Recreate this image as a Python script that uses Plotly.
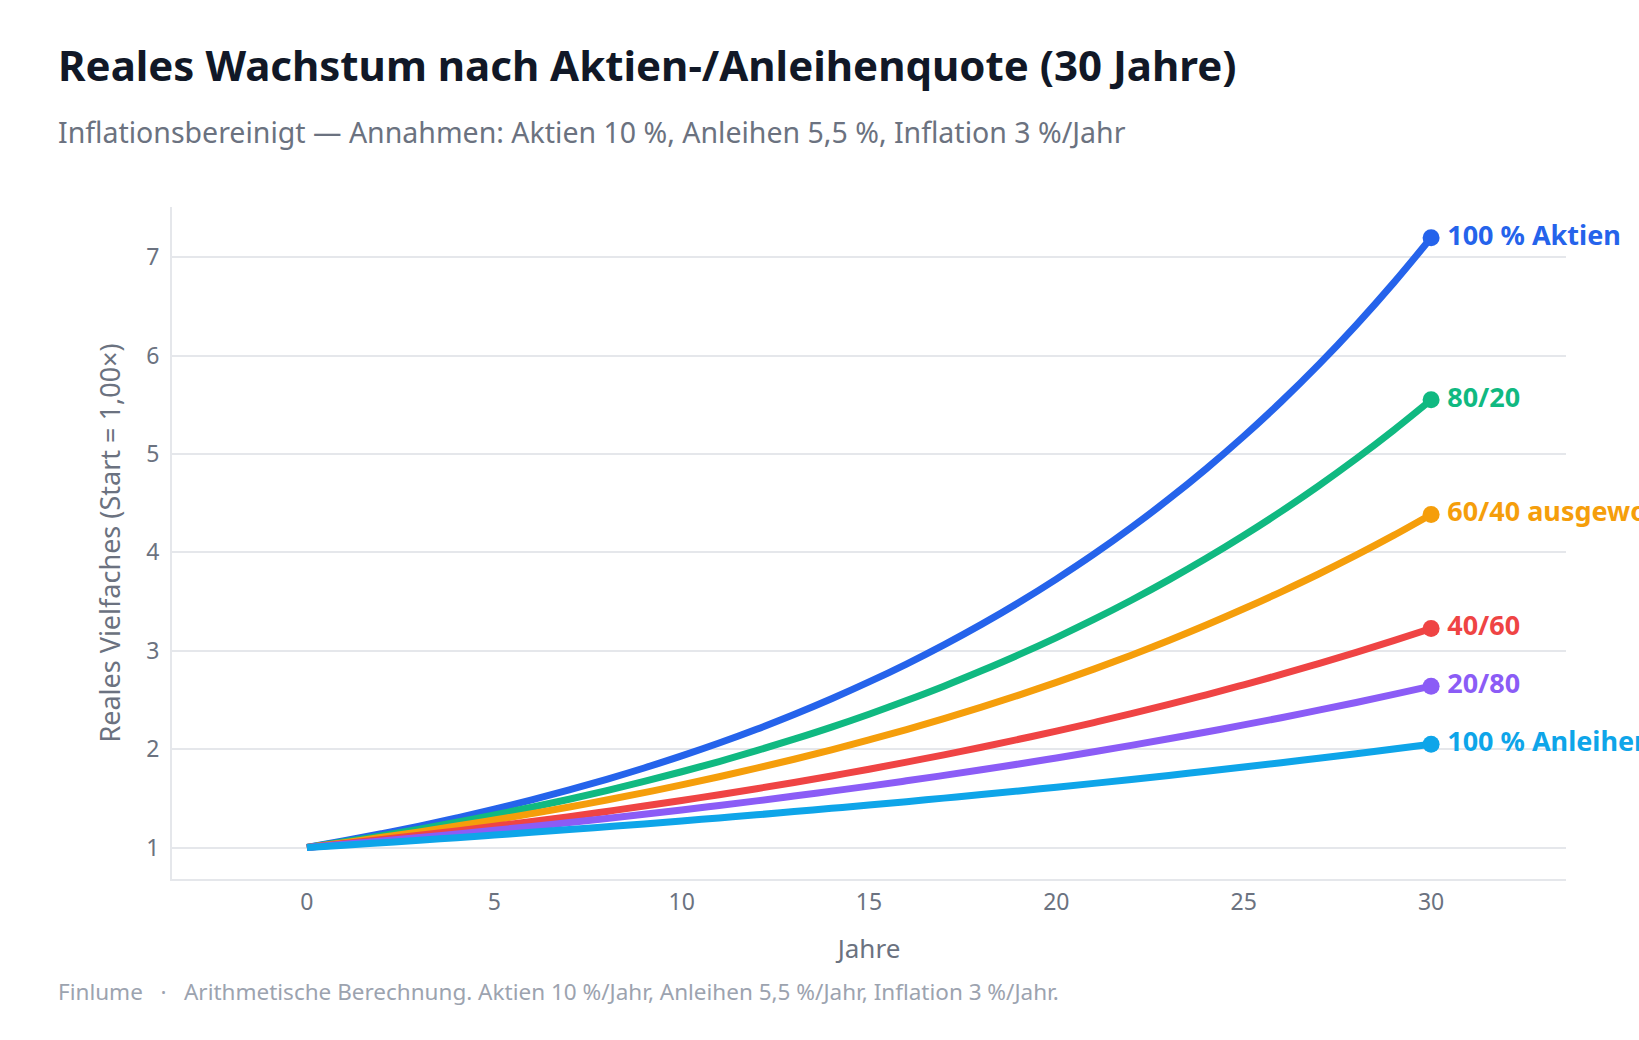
import plotly.graph_objects as go

# ---- data ----
years = list(range(0, 31))

aktien_100 = [1.000, 1.068, 1.141, 1.218, 1.301, 1.389, 1.484, 1.585, 1.693, 1.808, 1.931,
              2.062, 2.202, 2.352, 2.512, 2.683, 2.865, 3.060, 3.268, 3.490, 3.728,
              3.981, 4.252, 4.541, 4.850, 5.180, 5.532, 5.908, 6.310, 6.739, 7.197]
mix_80_20 = [1.000, 1.059, 1.121, 1.187, 1.257, 1.330, 1.409, 1.491, 1.579, 1.672, 1.770,
             1.874, 1.984, 2.101, 2.224, 2.355, 2.494, 2.640, 2.796, 2.960, 3.134,
             3.318, 3.513, 3.720, 3.939, 4.171, 4.416, 4.676, 4.951, 5.242, 5.550]
mix_60_40 = [1.000, 1.050, 1.104, 1.159, 1.218, 1.279, 1.344, 1.412, 1.483, 1.558, 1.637,
             1.719, 1.806, 1.897, 1.993, 2.094, 2.199, 2.310, 2.427, 2.549, 2.678,
             2.813, 2.955, 3.104, 3.261, 3.426, 3.599, 3.780, 3.971, 4.172, 4.385]
mix_40_60 = [1.000, 1.040, 1.081, 1.124, 1.169, 1.216, 1.264, 1.314, 1.367, 1.421, 1.478,
             1.537, 1.598, 1.661, 1.727, 1.796, 1.868, 1.942, 2.019, 2.100, 2.183,
             2.270, 2.360, 2.454, 2.552, 2.654, 2.759, 2.869, 2.983, 3.102, 3.226]
mix_20_80 = [1.000, 1.033, 1.067, 1.102, 1.138, 1.175, 1.214, 1.254, 1.295, 1.338, 1.382,
             1.427, 1.474, 1.523, 1.573, 1.624, 1.678, 1.733, 1.790, 1.849, 1.910,
             1.973, 2.038, 2.105, 2.174, 2.246, 2.319, 2.396, 2.474, 2.556, 2.640]
anleihen_100 = [1.000, 1.024, 1.049, 1.074, 1.100, 1.127, 1.154, 1.182, 1.211, 1.240, 1.270,
                1.301, 1.332, 1.365, 1.398, 1.431, 1.466, 1.502, 1.538, 1.575, 1.613,
                1.652, 1.692, 1.733, 1.775, 1.818, 1.862, 1.907, 1.953, 2.001, 2.049]

series_names = ["100 % Aktien", "80/20", "60/40 ausgewogen", "40/60", "20/80", "100 % Anleihen"]
series_values = [aktien_100, mix_80_20, mix_60_40, mix_40_60, mix_20_80, anleihen_100]
series_colors = ["#2563eb", "#10b981", "#f59e0b", "#ef4444", "#8b5cf6", "#0ea5e9"]

y_ticks = [1, 2, 3, 4, 5, 6, 7]
x_ticks = [0, 5, 10, 15, 20, 25, 30]

FONT = "Segoe UI, Noto Sans, Open Sans, sans-serif"

fig = go.Figure()

for name, vals, col in zip(series_names, series_values, series_colors):
    fig.add_trace(go.Scatter(
        x=years, y=vals, mode="lines", name=name,
        line=dict(color=col, width=7, shape="spline", smoothing=1.0),
        hoverinfo="skip", showlegend=False,
    ))

for name, vals, col in zip(series_names, series_values, series_colors):
    fig.add_trace(go.Scatter(
        x=[years[-1]], y=[vals[-1]], mode="markers+text",
        marker=dict(color=col, size=17),
        text=["\u2009" + name], textposition="middle right",
        textfont=dict(family=FONT, size=27, color=col, weight="bold"),
        cliponaxis=False, hoverinfo="skip", showlegend=False,
    ))

L, R, T, B = 172, 73, 207, 161
W, H = 1639, 1040
pw, ph = W - L - R, H - T - B

def px(xpix):
    return (xpix - L) / pw

def py(ypix):
    return (H - B - ypix) / ph

fig.update_layout(
    width=W, height=H,
    margin=dict(l=L, r=R, t=T, b=B),
    paper_bgcolor="white", plot_bgcolor="white",
    font=dict(family=FONT, color="#6b7280"),
    xaxis=dict(
        range=[-3.6, 33.6], tickvals=x_ticks, showgrid=False, zeroline=False,
        showline=True, linecolor="#e5e7eb", linewidth=2,
        tickfont=dict(size=23, color="#6b7280"), ticks="", ticklabelstandoff=1,
        title=dict(text="Jahre", font=dict(size=26, color="#6b7280"), standoff=24),
    ),
    yaxis=dict(
        range=[0.68, 7.51], tickvals=y_ticks, showgrid=True, gridcolor="#e5e7eb",
        gridwidth=2, zeroline=False, showline=True, linecolor="#e5e7eb", linewidth=2,
        tickfont=dict(size=23, color="#6b7280"), ticks="", ticklabelstandoff=6,
        title=dict(text="Reales Vielfaches (Start = 1,00×)", font=dict(size=27, color="#6b7280"), standoff=18),
    ),
    annotations=[
        dict(text="<b>Reales Wachstum nach Aktien-/Anleihenquote (30 Jahre)</b>",
             xref="paper", yref="paper", x=px(56), y=py(64), xanchor="left", yanchor="middle",
             showarrow=False, font=dict(family=FONT, size=42, color="#111827")),
        dict(text="Inflationsbereinigt — Annahmen: Aktien 10 %, Anleihen 5,5 %, Inflation 3 %/Jahr",
             xref="paper", yref="paper", x=px(56), y=py(132), xanchor="left", yanchor="middle",
             showarrow=False, font=dict(family=FONT, size=28.5, color="#6b7280")),
        dict(text="Finlume   ·   Arithmetische Berechnung. Aktien 10 %/Jahr, Anleihen 5,5 %/Jahr, Inflation 3 %/Jahr.",
             xref="paper", yref="paper", x=px(56), y=py(991), xanchor="left", yanchor="middle",
             showarrow=False, font=dict(family=FONT, size=22.5, color="#9ca3af")),
    ],
)

fig.write_html("out.html")
